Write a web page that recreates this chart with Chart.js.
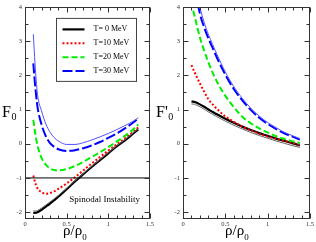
<!DOCTYPE html>
<html><head><meta charset="utf-8">
<script src="https://cdn.jsdelivr.net/npm/chart.js@4"></script>
<style>
html,body{margin:0;padding:0;background:#fff;}
#wrap{position:relative;width:316px;height:242px;overflow:hidden;background:#fff;}
canvas{position:absolute;top:0;}
</style></head><body>
<div id="wrap">
<canvas id="cL" width="155" height="242" style="left:0px"></canvas>
<canvas id="cR" width="161" height="242" style="left:155px"></canvas>
</div>
<script>
// ---------- data ----------
const seriesLabels = ['T= 0 MeV', 'T=10 MeV', 'T=20 MeV', 'T=30 MeV'];
const xTickValues = [0, 0.5, 1, 1.5];
const yTickValues = [-2, -1, 0, 1, 2, 3, 4];

// Left panel: F0 vs rho/rho0
const rhoL = [0.1, 0.12, 0.15, 0.2, 0.25, 0.3, 0.35, 0.4, 0.5, 0.6, 0.7, 0.8, 0.9, 1.0, 1.1, 1.2, 1.3, 1.36];
const F0_T0   = [-2.02, -2.02, -2.0, -1.93, -1.84, -1.75, -1.65, -1.55, -1.33, -1.1, -0.89, -0.68, -0.48, -0.28, -0.08, 0.1, 0.3, 0.42];
const F0_T0b  = [-1.96, -1.97, -1.95, -1.88, -1.79, -1.7, -1.61, -1.51, -1.3, -1.08, -0.87, -0.66, -0.46, -0.26, -0.06, 0.12, 0.32, 0.44];
const F0_T10  = [-0.93, -1.12, -1.3, -1.42, -1.46, -1.44, -1.39, -1.32, -1.16, -0.98, -0.78, -0.58, -0.39, -0.2, -0.02, 0.16, 0.35, 0.48];
const F0_T20  = [0.7, 0.35, -0.05, -0.42, -0.61, -0.72, -0.77, -0.78, -0.74, -0.65, -0.53, -0.39, -0.25, -0.1, 0.06, 0.23, 0.42, 0.56];
const F0_T30  = [2.35, 1.75, 1.08, 0.55, 0.22, 0.02, -0.09, -0.16, -0.21, -0.19, -0.13, -0.05, 0.05, 0.17, 0.3, 0.45, 0.62, 0.74];
const F0_T30b = [3.2, 2.35, 1.45, 0.95, 0.58, 0.34, 0.18, 0.08, -0.02, -0.02, 0.03, 0.11, 0.2, 0.3, 0.41, 0.53, 0.66, 0.76];
const spinodalX = [0, 1.5];
const spinodalY = [-1, -1];

// Right panel: F'0 vs rho/rho0
const rhoR = [0.1, 0.12, 0.15, 0.2, 0.25, 0.3, 0.35, 0.4, 0.5, 0.6, 0.7, 0.8, 0.9, 1.0, 1.1, 1.2, 1.3, 1.38];
const F0p_T0   = [1.23, 1.23, 1.21, 1.15, 1.08, 1.0, 0.93, 0.86, 0.73, 0.61, 0.5, 0.4, 0.31, 0.23, 0.15, 0.08, 0.01, -0.05];
const F0p_T0b  = [1.16, 1.16, 1.14, 1.08, 1.01, 0.93, 0.86, 0.79, 0.66, 0.54, 0.43, 0.33, 0.24, 0.16, 0.08, 0.01, -0.06, -0.11];
const F0p_T10  = [2.3, 2.18, 2.02, 1.76, 1.52, 1.3, 1.15, 1.02, 0.8, 0.64, 0.5, 0.39, 0.29, 0.21, 0.14, 0.08, 0.02, -0.03];
const F0p_T20  = [4.15, 3.9, 3.6, 3.1, 2.72, 2.38, 2.08, 1.82, 1.4, 1.07, 0.79, 0.6, 0.45, 0.33, 0.22, 0.14, 0.07, 0.02];
const F0p_T30  = [5.6, 5.1, 4.45, 3.8, 3.4, 3.08, 2.8, 2.52, 2.02, 1.6, 1.27, 0.99, 0.76, 0.58, 0.43, 0.3, 0.2, 0.12];
const F0p_T30b = [5.8, 5.3, 4.7, 4.0, 3.55, 3.2, 2.9, 2.62, 2.1, 1.67, 1.33, 1.04, 0.81, 0.62, 0.47, 0.33, 0.23, 0.15];

// ---------- helpers ----------
const SERIF = '"Liberation Serif", "Times New Roman", serif';
const pts = (xs, ys) => xs.map((x, i) => ({x: x, y: ys[i]}));

const styles = [
  {borderColor: '#000000', borderWidth: 2.2, borderDash: []},
  {borderColor: '#ff0000', borderWidth: 2, borderDash: [2, 2]},
  {borderColor: '#00ee00', borderWidth: 2, borderDash: [6, 3]},
  {borderColor: '#0000ff', borderWidth: 2, borderDash: [10, 3]}
];
const thinBlack = {borderColor: '#666666', borderWidth: 1, borderDash: []};
const thinBlue = {borderColor: '#5050ff', borderWidth: 1, borderDash: []};

function ds(data, st, label) {
  return Object.assign({
    label: label || '',
    data: data,
    pointRadius: 0,
    fill: false,
    cubicInterpolationMode: 'monotone',
    clip: 0
  }, st);
}

const decor = {
  id: 'decor',
  afterDraw(chart, args, o) {
    const ctx = chart.ctx, a = chart.chartArea, x = chart.scales.x, y = chart.scales.y;
    ctx.save();
    // frame
    ctx.strokeStyle = '#333';
    ctx.lineWidth = 1;
    ctx.setLineDash([]);
    const L = Math.round(a.left) + 0.5, R = Math.round(a.right) - 0.5;
    const T = Math.round(a.top) + 0.5, B = Math.round(a.bottom) - 0.5;
    ctx.strokeRect(L, T, R - L, B - T);
    // inward ticks
    ctx.beginPath();
    for (let i = 0; i <= 15; i++) {
      const px = Math.round(x.getPixelForValue(i / 10)) + 0.5;
      const len = (i % 5 === 0) ? 5 : 3;
      ctx.moveTo(px, B); ctx.lineTo(px, B - len);
      ctx.moveTo(px, T); ctx.lineTo(px, T + len);
    }
    for (let i = -4; i <= 8; i++) {
      const py = Math.round(y.getPixelForValue(i / 2)) + 0.5;
      const len = (i % 2 === 0) ? 5 : 3;
      ctx.moveTo(L, py); ctx.lineTo(L + len, py);
      ctx.moveTo(R, py); ctx.lineTo(R - len, py);
    }
    ctx.stroke();

    // axis titles
    ctx.fillStyle = '#000';
    ctx.textBaseline = 'alphabetic';
    ctx.textAlign = 'left';
    ctx.font = '16px ' + SERIF;
    const main = o.prime ? "F'" : 'F';
    ctx.fillText(main, o.yTitleX, 116.5);
    const w = ctx.measureText(main).width;
    ctx.font = '10px ' + SERIF;
    ctx.fillText('0', o.yTitleX + w + 0.5, 120);

    ctx.font = '15px ' + SERIF;
    ctx.fillText('ρ/ρ', o.xTitleX, 235);
    const w2 = ctx.measureText('ρ/ρ').width;
    ctx.font = '9px ' + SERIF;
    ctx.fillText('0', o.xTitleX + w2, 240);

    if (o.note) {
      ctx.font = '9px ' + SERIF;
      ctx.fillText('Spinodal Instability', x.getPixelForValue(0.53), y.getPixelForValue(-1.71));
    }

    if (o.legend) {
      const bx = a.left + 31.5, by = a.top + 11.5, bw = 80, bh = 63;
      ctx.strokeStyle = '#444';
      ctx.lineWidth = 1;
      ctx.strokeRect(bx, by, bw, bh);
      ctx.font = '8px ' + SERIF;
      ctx.textBaseline = 'middle';
      for (let i = 0; i < seriesLabels.length; i++) {
        const st = styles[i];
        const ly = by + 11 + i * 13.9;
        ctx.strokeStyle = st.borderColor;
        ctx.lineWidth = st.borderWidth;
        ctx.setLineDash(st.borderDash);
        ctx.beginPath();
        ctx.moveTo(bx + 6, ly);
        ctx.lineTo(bx + 28, ly);
        ctx.stroke();
        ctx.setLineDash([]);
        ctx.fillStyle = '#000';
        ctx.fillText(seriesLabels[i], bx + 37, ly);
      }
    }
    ctx.restore();
  }
};

function makeOptions(yWidth, rightPad, decorOpts) {
  const tickFont = {family: SERIF, size: 6.5};
  return {
    responsive: false,
    animation: false,
    devicePixelRatio: 1,
    layout: {padding: {top: 3, right: rightPad, left: 0, bottom: 0}},
    plugins: {legend: {display: false}, tooltip: {enabled: false}, decor: decorOpts},
    scales: {
      x: {
        type: 'linear', min: 0, max: 1.5,
        grid: {display: false, drawTicks: false},
        border: {display: false},
        afterBuildTicks: s => { s.ticks = xTickValues.map(v => ({value: v})); },
        afterFit: s => { s.height = 23; },
        ticks: {padding: 1, autoSkip: false, maxRotation: 0, font: tickFont, color: '#333',
                callback: v => String(v)}
      },
      y: {
        type: 'linear', min: -2.2, max: 4,
        grid: {display: false, drawTicks: false},
        border: {display: false},
        afterBuildTicks: s => { s.ticks = yTickValues.map(v => ({value: v})); },
        afterFit: s => { s.width = yWidth; },
        ticks: {padding: 3, autoSkip: false, font: tickFont, color: '#333',
                callback: v => String(v)}
      }
    }
  };
}

new Chart(document.getElementById('cL'), {
  type: 'line',
  data: {
    datasets: [
      ds(pts(spinodalX, spinodalY), {borderColor: '#000', borderWidth: 1, borderDash: [], cubicInterpolationMode: 'default'}),
      ds(pts(rhoL, F0_T30b), thinBlue),
      ds(pts(rhoL, F0_T0b), thinBlack),
      ds(pts(rhoL, F0_T30), styles[3], seriesLabels[3]),
      ds(pts(rhoL, F0_T20), styles[2], seriesLabels[2]),
      ds(pts(rhoL, F0_T10), styles[1], seriesLabels[1]),
      ds(pts(rhoL, F0_T0), styles[0], seriesLabels[0])
    ]
  },
  options: makeOptions(25, 3, {yTitleX: 2, xTitleX: 63, prime: false, note: true, legend: true}),
  plugins: [decor]
});

new Chart(document.getElementById('cR'), {
  type: 'line',
  data: {
    datasets: [
      ds(pts(rhoR, F0p_T30b), thinBlue),
      ds(pts(rhoR, F0p_T0b), thinBlack),
      ds(pts(rhoR, F0p_T30), styles[3], seriesLabels[3]),
      ds(pts(rhoR, F0p_T20), styles[2], seriesLabels[2]),
      ds(pts(rhoR, F0p_T10), styles[1], seriesLabels[1]),
      ds(pts(rhoR, F0p_T0), styles[0], seriesLabels[0])
    ]
  },
  options: makeOptions(28, 6, {yTitleX: 1, xTitleX: 70, prime: true, note: false, legend: false}),
  plugins: [decor]
});
</script>
</body></html>
